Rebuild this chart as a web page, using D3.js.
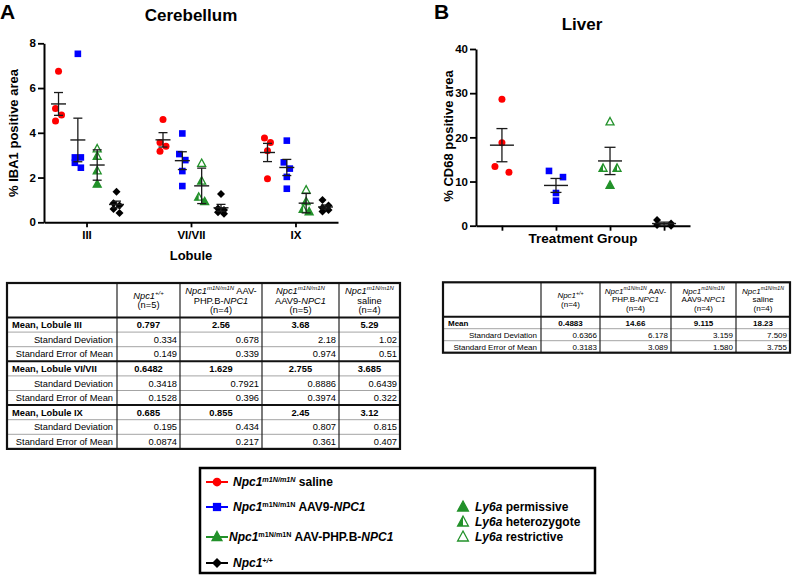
<!DOCTYPE html>
<html>
<head>
<meta charset="utf-8">
<script src="https://cdn.jsdelivr.net/npm/d3@7"></script>
<style>
  body { margin: 0; background: #fff; }
  svg { display: block; }
</style>
</head>
<body>
<svg id="fig" width="793" height="575"></svg>
<script>
"use strict";

/*** DATA ***/

var lobules = ["III", "VI/VII", "IX"];
var groups = ["saline", "AAV9", "PHPB", "WT"];

// % IBA1 positive area, one array per lobule (III, VI/VII, IX)
var iba1Saline = [[6.75, 5.09, 4.79, 4.53], [4.6, 3.57, 3.4, 3.17], [3.77, 3.57, 3.2, 1.95]];
var iba1AAV9 = [[7.53, 2.9, 2.9, 2.66, 2.44], [3.97, 3.05, 2.78, 2.29, 1.62], [3.65, 2.68, 2.4, 2.03, 1.5]];
var iba1PHPB = [[3.28, 2.95, 2.3, 1.7], [2.63, 1.84, 1.12, 0.92], [1.44, 0.92, 0.58, 0.47]];
var iba1WT = [[1.37, 0.85, 0.75, 0.6, 0.42], [1.26, 0.62, 0.55, 0.45, 0.38], [1.0, 0.75, 0.65, 0.55, 0.48]];

// Ly6a genotype of the PHP.B mice, same order as the values above
var phpbLy6a = ["restrictive", "heterozygote", "heterozygote", "permissive"];

// % CD68 positive area, liver
var cd68Saline = [28.6, 18.8, 13.4, 12.1];
var cd68AAV9 = [12.4, 11.0, 7.4, 5.66];
var cd68PHPB = [23.5, 13.0, 13.0, 9.14];
var cd68WT = [1.3, 0.5, 0.15, 0.0];

// table columns are WT, PHP.B, AAV9, saline
var tableGroups = ["WT", "PHPB", "AAV9", "saline"];
var meanIII = ["0.797", "2.56", "3.68", "5.29"];
var sdIII = ["0.334", "0.678", "2.18", "1.02"];
var semIII = ["0.149", "0.339", "0.974", "0.51"];
var meanVI = ["0.6482", "1.629", "2.755", "3.685"];
var sdVI = ["0.3418", "0.7921", "0.8886", "0.6439"];
var semVI = ["0.1528", "0.396", "0.3974", "0.322"];
var meanIX = ["0.685", "0.855", "2.45", "3.12"];
var sdIX = ["0.195", "0.434", "0.807", "0.815"];
var semIX = ["0.0874", "0.217", "0.361", "0.407"];

var meanLiver = ["0.4883", "14.66", "9.115", "18.23"];
var sdLiver = ["0.6366", "6.178", "3.159", "7.509"];
var semLiver = ["0.3183", "3.089", "1.580", "3.755"];

var nCerebellum = ["5", "4", "5", "4"];
var nLiver = ["4", "4", "4", "4"];


/*** STYLE ***/

var FONT = "'Liberation Sans', Arial, Helvetica, sans-serif";
var colors = { saline: "#ff0000", AAV9: "#0000ff", PHPB: "#22912a", WT: "#000000" };
var shapes = { saline: "circle", AAV9: "square", PHPB: "triangle", WT: "diamond" };

var svg = d3.select("#fig");
svg.append("rect").attr("width", 793).attr("height", 575).attr("fill", "#fff");


/*** HELPERS ***/

// draw one marker
var marker = function(g, shape, x, y, color, ly6a, scale) {
  scale = scale || 1;
  if (shape == "circle") {
    g.append("circle").attr("cx", x).attr("cy", y).attr("r", 3.5 * scale).attr("fill", color);
  }
  else if (shape == "square") {
    var s = 6.6 * scale;
    g.append("rect").attr("x", x - s / 2).attr("y", y - s / 2).attr("width", s).attr("height", s).attr("fill", color);
  }
  else if (shape == "diamond") {
    var d = 4 * scale;
    g.append("path").attr("d", "M" + x + "," + (y - d) + "L" + (x + d) + "," + y + "L" + x + "," + (y + d) + "L" + (x - d) + "," + y + "Z")
      .attr("fill", color);
  }
  else {
    var w = 8 * scale, h = 7.4 * scale;
    var top = y - h * 0.6, bot = y + h * 0.4;
    if (ly6a == "heterozygote") {
      g.append("path").attr("d", "M" + x + "," + top + "L" + x + "," + bot + "L" + (x - w / 2) + "," + bot + "Z").attr("fill", color);
    }
    g.append("path")
      .attr("d", "M" + x + "," + top + "L" + (x + w / 2) + "," + bot + "L" + (x - w / 2) + "," + bot + "Z")
      .attr("fill", ly6a == "permissive" ? color : "none")
      .attr("stroke", color).attr("stroke-width", 1.3).attr("stroke-linejoin", "miter");
  }
};

// spread points that sit on top of each other, zig-zag style
var jitter = function(vals, yScale, thresh, step) {
  var idx = vals.map(function(v, i) { return i; }).sort(function(a, b) { return vals[b] - vals[a]; });
  var off = vals.map(function() { return 0; });
  var cluster = [idx[0]];
  var flush = function() {
    if (cluster.length > 1) {
      cluster.forEach(function(k, j) { off[k] = (j % 2 == 0 ? -step / 2 : step / 2); });
    }
  };
  for (var j = 1; j < idx.length; j++) {
    if (Math.abs(yScale(vals[idx[j - 1]]) - yScale(vals[idx[j]])) < thresh) { cluster.push(idx[j]); }
    else { flush(); cluster = [idx[j]]; }
  }
  flush();
  return off;
};

// mean line with error bar
var meanBar = function(g, x, yScale, mean, err, halfW, capW) {
  var st = "#1a1a1a";
  g.append("line").attr("x1", x - halfW).attr("x2", x + halfW).attr("y1", yScale(mean)).attr("y2", yScale(mean))
    .attr("stroke", st).attr("stroke-width", 1.4);
  g.append("line").attr("x1", x).attr("x2", x).attr("y1", yScale(mean - err)).attr("y2", yScale(mean + err))
    .attr("stroke", st).attr("stroke-width", 1.3);
  [mean - err, mean + err].forEach(function(v) {
    g.append("line").attr("x1", x - capW).attr("x2", x + capW).attr("y1", yScale(v)).attr("y2", yScale(v))
      .attr("stroke", st).attr("stroke-width", 1.3);
  });
};

// text with italic / superscript pieces: segs = [[text, flags]], flags: b, i, s
var richText = function(g, x, y, segs, size, anchor, supScale) {
  supScale = supScale || 0.65;
  var t = g.append("text").attr("x", x).attr("y", y).attr("font-size", size)
    .attr("font-family", FONT).attr("text-anchor", anchor || "start").attr("fill", "#000");
  var raised = false;
  segs.forEach(function(s) {
    var sp = t.append("tspan").text(s[0]);
    var f = s[1] || "";
    if (f.indexOf("b") >= 0) sp.attr("font-weight", "bold");
    if (f.indexOf("i") >= 0) sp.attr("font-style", "italic");
    if (f.indexOf("s") >= 0) {
      sp.attr("font-size", size * supScale);
      if (!raised) { sp.attr("dy", -size * 0.38); raised = true; }
    }
    else if (raised) { sp.attr("dy", size * 0.38); raised = false; }
  });
  return t;
};

var styleAxis = function(sel) {
  sel.attr("font-family", FONT);
  sel.select(".domain").attr("stroke-width", 2).attr("stroke", "#000");
  sel.selectAll(".tick line").attr("stroke-width", 1.8).attr("stroke", "#000");
  sel.selectAll(".tick text").attr("font-size", 11.5).attr("font-weight", "bold").attr("fill", "#000");
};


/*** PANEL A: CEREBELLUM ***/

var iba1 = { saline: iba1Saline, AAV9: iba1AAV9, PHPB: iba1PHPB, WT: iba1WT };
var cereMean = [meanIII, meanVI, meanIX];
var cereSD = [sdIII, sdVI, sdIX];
var cereSEM = [semIII, semVI, semIX];

var xA = d3.scalePoint().domain(lobules).range([44, 338]).padding(0.407);
var subA = d3.scalePoint().domain(groups).range([-28, 30]);
var yA = d3.scaleLinear().domain([0, 8]).range([222.3, 43.3]);

var gA = svg.append("g");

gA.append("g").attr("transform", "translate(44,0)")
  .call(d3.axisLeft(yA).ticks(4).tickSize(6).tickSizeOuter(0).tickPadding(2))
  .call(styleAxis);
gA.append("g").attr("transform", "translate(0," + yA(0) + ")")
  .call(d3.axisBottom(xA).tickSize(5).tickSizeOuter(0).tickPadding(4))
  .call(styleAxis);

lobules.forEach(function(lob, li) {
  groups.forEach(function(grp) {
    var vals = iba1[grp][li];
    var cx = xA(lob) + subA(grp);
    var off = jitter(vals, yA, 7, 6);
    vals.forEach(function(v, k) {
      marker(gA, shapes[grp], cx + off[k], yA(v), colors[grp], phpbLy6a[k]);
    });
  });
  groups.forEach(function(grp) {
    var col = tableGroups.indexOf(grp);
    // the PHP.B bars in the cerebellum plot follow the SD column
    var err = grp == "PHPB" ? +cereSD[li][col] : +cereSEM[li][col];
    meanBar(gA, xA(lob) + subA(grp), yA, +cereMean[li][col], err, 7.5, 4.5);
  });
});

gA.append("text").attr("transform", "translate(18," + 133 + ") rotate(-90)")
  .attr("text-anchor", "middle").attr("font-family", FONT).attr("font-weight", "bold").attr("font-size", 13)
  .text("% IBA1 positive area");
gA.append("text").attr("x", 191).attr("y", 260).attr("text-anchor", "middle")
  .attr("font-family", FONT).attr("font-weight", "bold").attr("font-size", 13).text("Lobule");
gA.append("text").attr("x", 191).attr("y", 21).attr("text-anchor", "middle")
  .attr("font-family", FONT).attr("font-weight", "bold").attr("font-size", 17).text("Cerebellum");
svg.append("text").attr("x", 0).attr("y", 19)
  .attr("font-family", FONT).attr("font-weight", "bold").attr("font-size", 21).text("A");


/*** PANEL B: LIVER ***/

var cd68 = { saline: cd68Saline, AAV9: cd68AAV9, PHPB: cd68PHPB, WT: cd68WT };

var xB = d3.scalePoint().domain(groups).range([476, 690]).padding(0.48);
var yB = d3.scaleLinear().domain([0, 40]).range([225.7, 49]);

var gB = svg.append("g");
gB.append("g").attr("transform", "translate(476,0)")
  .call(d3.axisLeft(yB).ticks(4).tickSize(6).tickSizeOuter(0).tickPadding(2))
  .call(styleAxis);
gB.append("g").attr("transform", "translate(0," + yB(0) + ")")
  .call(d3.axisBottom(xB).tickSize(5).tickSizeOuter(0).tickFormat(""))
  .call(styleAxis);

groups.forEach(function(grp) {
  var vals = cd68[grp];
  var off = jitter(vals, yB, 7, 14);
  vals.forEach(function(v, k) {
    marker(gB, shapes[grp], xB(grp) + off[k], yB(v), colors[grp], phpbLy6a[k]);
  });
});
groups.forEach(function(grp) {
  var col = tableGroups.indexOf(grp);
  meanBar(gB, xB(grp), yB, +meanLiver[col], +semLiver[col], 12, 5.5);
});

gB.append("text").attr("transform", "translate(453," + 136 + ") rotate(-90)")
  .attr("text-anchor", "middle").attr("font-family", FONT).attr("font-weight", "bold").attr("font-size", 13)
  .text("% CD68 positive area");
gB.append("text").attr("x", 583).attr("y", 243).attr("text-anchor", "middle")
  .attr("font-family", FONT).attr("font-weight", "bold").attr("font-size", 13.5).text("Treatment Group");
gB.append("text").attr("x", 582).attr("y", 30).attr("text-anchor", "middle")
  .attr("font-family", FONT).attr("font-weight", "bold").attr("font-size", 17).text("Liver");
svg.append("text").attr("x", 434).attr("y", 19)
  .attr("font-family", FONT).attr("font-weight", "bold").attr("font-size", 21).text("B");


/*** TABLES ***/

var headerSegs = function(n) {
  return [
    [[["Npc1", "i"], ["+/+", "is"]], [["(n=" + n[0] + ")", ""]]],
    [[["Npc1", "i"], ["m1N/m1N", "is"], [" AAV-", ""]], [["PHP.B-", ""], ["NPC1", "i"]], [["(n=" + n[1] + ")", ""]]],
    [[["Npc1", "i"], ["m1N/m1N", "is"]], [["AAV9-", ""], ["NPC1", "i"]], [["(n=" + n[2] + ")", ""]]],
    [[["Npc1", "i"], ["m1N/m1N", "is"]], [["saline", ""]], [["(n=" + n[3] + ")", ""]]]
  ];
};

var drawTable = function(cfg) {
  var g = svg.append("g");
  var cols = cfg.cols, fs = cfg.fontSize;
  var bottom = cfg.headBottom + cfg.rows.length * cfg.rowH;
  var left = cols[0], right = cols[cols.length - 1];

  // header text
  var hc = (cfg.top + cfg.headBottom) / 2;
  cfg.headers.forEach(function(lines, c) {
    var cx = (cols[c + 1] + cols[c + 2]) / 2;
    lines.forEach(function(segs, i) {
      var y = hc + (i - (lines.length - 1) / 2) * cfg.lineH + fs * 0.35;
      richText(g, cx, y, segs, fs, "middle");
    });
  });

  // body rows
  cfg.rows.forEach(function(r, i) {
    var y0 = cfg.headBottom + i * cfg.rowH;
    var ty = y0 + cfg.rowH / 2 + fs * 0.36;
    if (r.mean) {
      g.append("text").attr("x", left + 5).attr("y", ty).attr("font-family", FONT).attr("font-weight", "bold")
        .attr("font-size", fs).text(r.label);
      r.values.forEach(function(v, c) {
        g.append("text").attr("x", (cols[c + 1] + cols[c + 2]) / 2).attr("y", ty).attr("text-anchor", "middle")
          .attr("font-family", FONT).attr("font-weight", "bold").attr("font-size", fs).text(v);
      });
    }
    else {
      g.append("text").attr("x", cols[1] - 4).attr("y", ty).attr("text-anchor", "end")
        .attr("font-family", FONT).attr("font-size", fs).text(r.label);
      r.values.forEach(function(v, c) {
        g.append("text").attr("x", cols[c + 2] - 3).attr("y", ty).attr("text-anchor", "end")
          .attr("font-family", FONT).attr("font-size", fs).text(v);
      });
      // thin line above sub rows
      g.append("line").attr("x1", left).attr("x2", right).attr("y1", y0).attr("y2", y0)
        .attr("stroke", "#9a9a9a").attr("stroke-width", 0.9);
    }
  });

  // vertical lines
  cols.slice(1, -1).forEach(function(x) {
    g.append("line").attr("x1", x).attr("x2", x).attr("y1", cfg.top).attr("y2", bottom)
      .attr("stroke", "#222").attr("stroke-width", 1.2);
  });
  // thick lines above mean rows
  cfg.rows.forEach(function(r, i) {
    if (r.mean) {
      var y0 = cfg.headBottom + i * cfg.rowH;
      g.append("line").attr("x1", left).attr("x2", right).attr("y1", y0).attr("y2", y0)
        .attr("stroke", "#111").attr("stroke-width", 2);
    }
  });
  g.append("rect").attr("x", left).attr("y", cfg.top).attr("width", right - left).attr("height", bottom - cfg.top)
    .attr("fill", "none").attr("stroke", "#111").attr("stroke-width", 2.2);
};

var rowsA = [];
[["III", meanIII, sdIII, semIII], ["VI/VII", meanVI, sdVI, semVI], ["IX", meanIX, sdIX, semIX]].forEach(function(r) {
  rowsA.push({ mean: true, label: "Mean, Lobule " + r[0], values: r[1] });
  rowsA.push({ mean: false, label: "Standard Deviation", values: r[2] });
  rowsA.push({ mean: false, label: "Standard Error of Mean", values: r[3] });
});

drawTable({
  cols: [7, 117, 180, 262, 339, 400],
  top: 283, headBottom: 317.5, rowH: 14.6, lineH: 9.5, fontSize: 9.3,
  headers: headerSegs(nCerebellum), rows: rowsA
});

drawTable({
  cols: [443, 541, 600, 671, 736, 790],
  top: 282.3, headBottom: 316.7, rowH: 12, lineH: 8.8, fontSize: 8,
  headers: headerSegs(nLiver),
  rows: [
    { mean: true, label: "Mean", values: meanLiver },
    { mean: false, label: "Standard Deviation", values: sdLiver },
    { mean: false, label: "Standard Error of Mean", values: semLiver }
  ]
});


/*** LEGEND ***/

var gL = svg.append("g");
gL.append("rect").attr("x", 200).attr("y", 468).attr("width", 395).attr("height", 105)
  .attr("fill", "none").attr("stroke", "#000").attr("stroke-width", 2.5);

var legendItems = [
  { grp: "saline", y: 482, segs: [["Npc1", "bi"], ["m1N/m1N", "bis"], [" saline", "b"]] },
  { grp: "AAV9", y: 507, segs: [["Npc1", "bi"], ["m1N/m1N", "bs"], [" AAV9-", "b"], ["NPC1", "bi"]] },
  { grp: "PHPB", y: 537, segs: [["Npc1", "bi"], ["m1N/m1N", "bs"], [" AAV-PHP.B-", "b"], ["NPC1", "bi"]] },
  { grp: "WT", y: 563, segs: [["Npc1", "bi"], ["+/+", "bis"]] }
];
legendItems.forEach(function(it) {
  gL.append("line").attr("x1", 206).attr("x2", 228).attr("y1", it.y).attr("y2", it.y)
    .attr("stroke", colors[it.grp]).attr("stroke-width", 2);
  marker(gL, shapes[it.grp], 217, it.y, colors[it.grp], "permissive", 1.25);
  richText(gL, it.grp == "PHPB" ? 229 : 233, it.y + 4.3, it.segs, 12, "start", 0.6);
});

[["permissive", 507], ["heterozygote", 522], ["restrictive", 537]].forEach(function(r) {
  marker(gL, "triangle", 463, r[1], colors.PHPB, r[0], 1.35);
  richText(gL, 475, r[1] + 4.3, [["Ly6a", "bi"], [" " + r[0], "b"]], 12, "start");
});
</script>
</body>
</html>
